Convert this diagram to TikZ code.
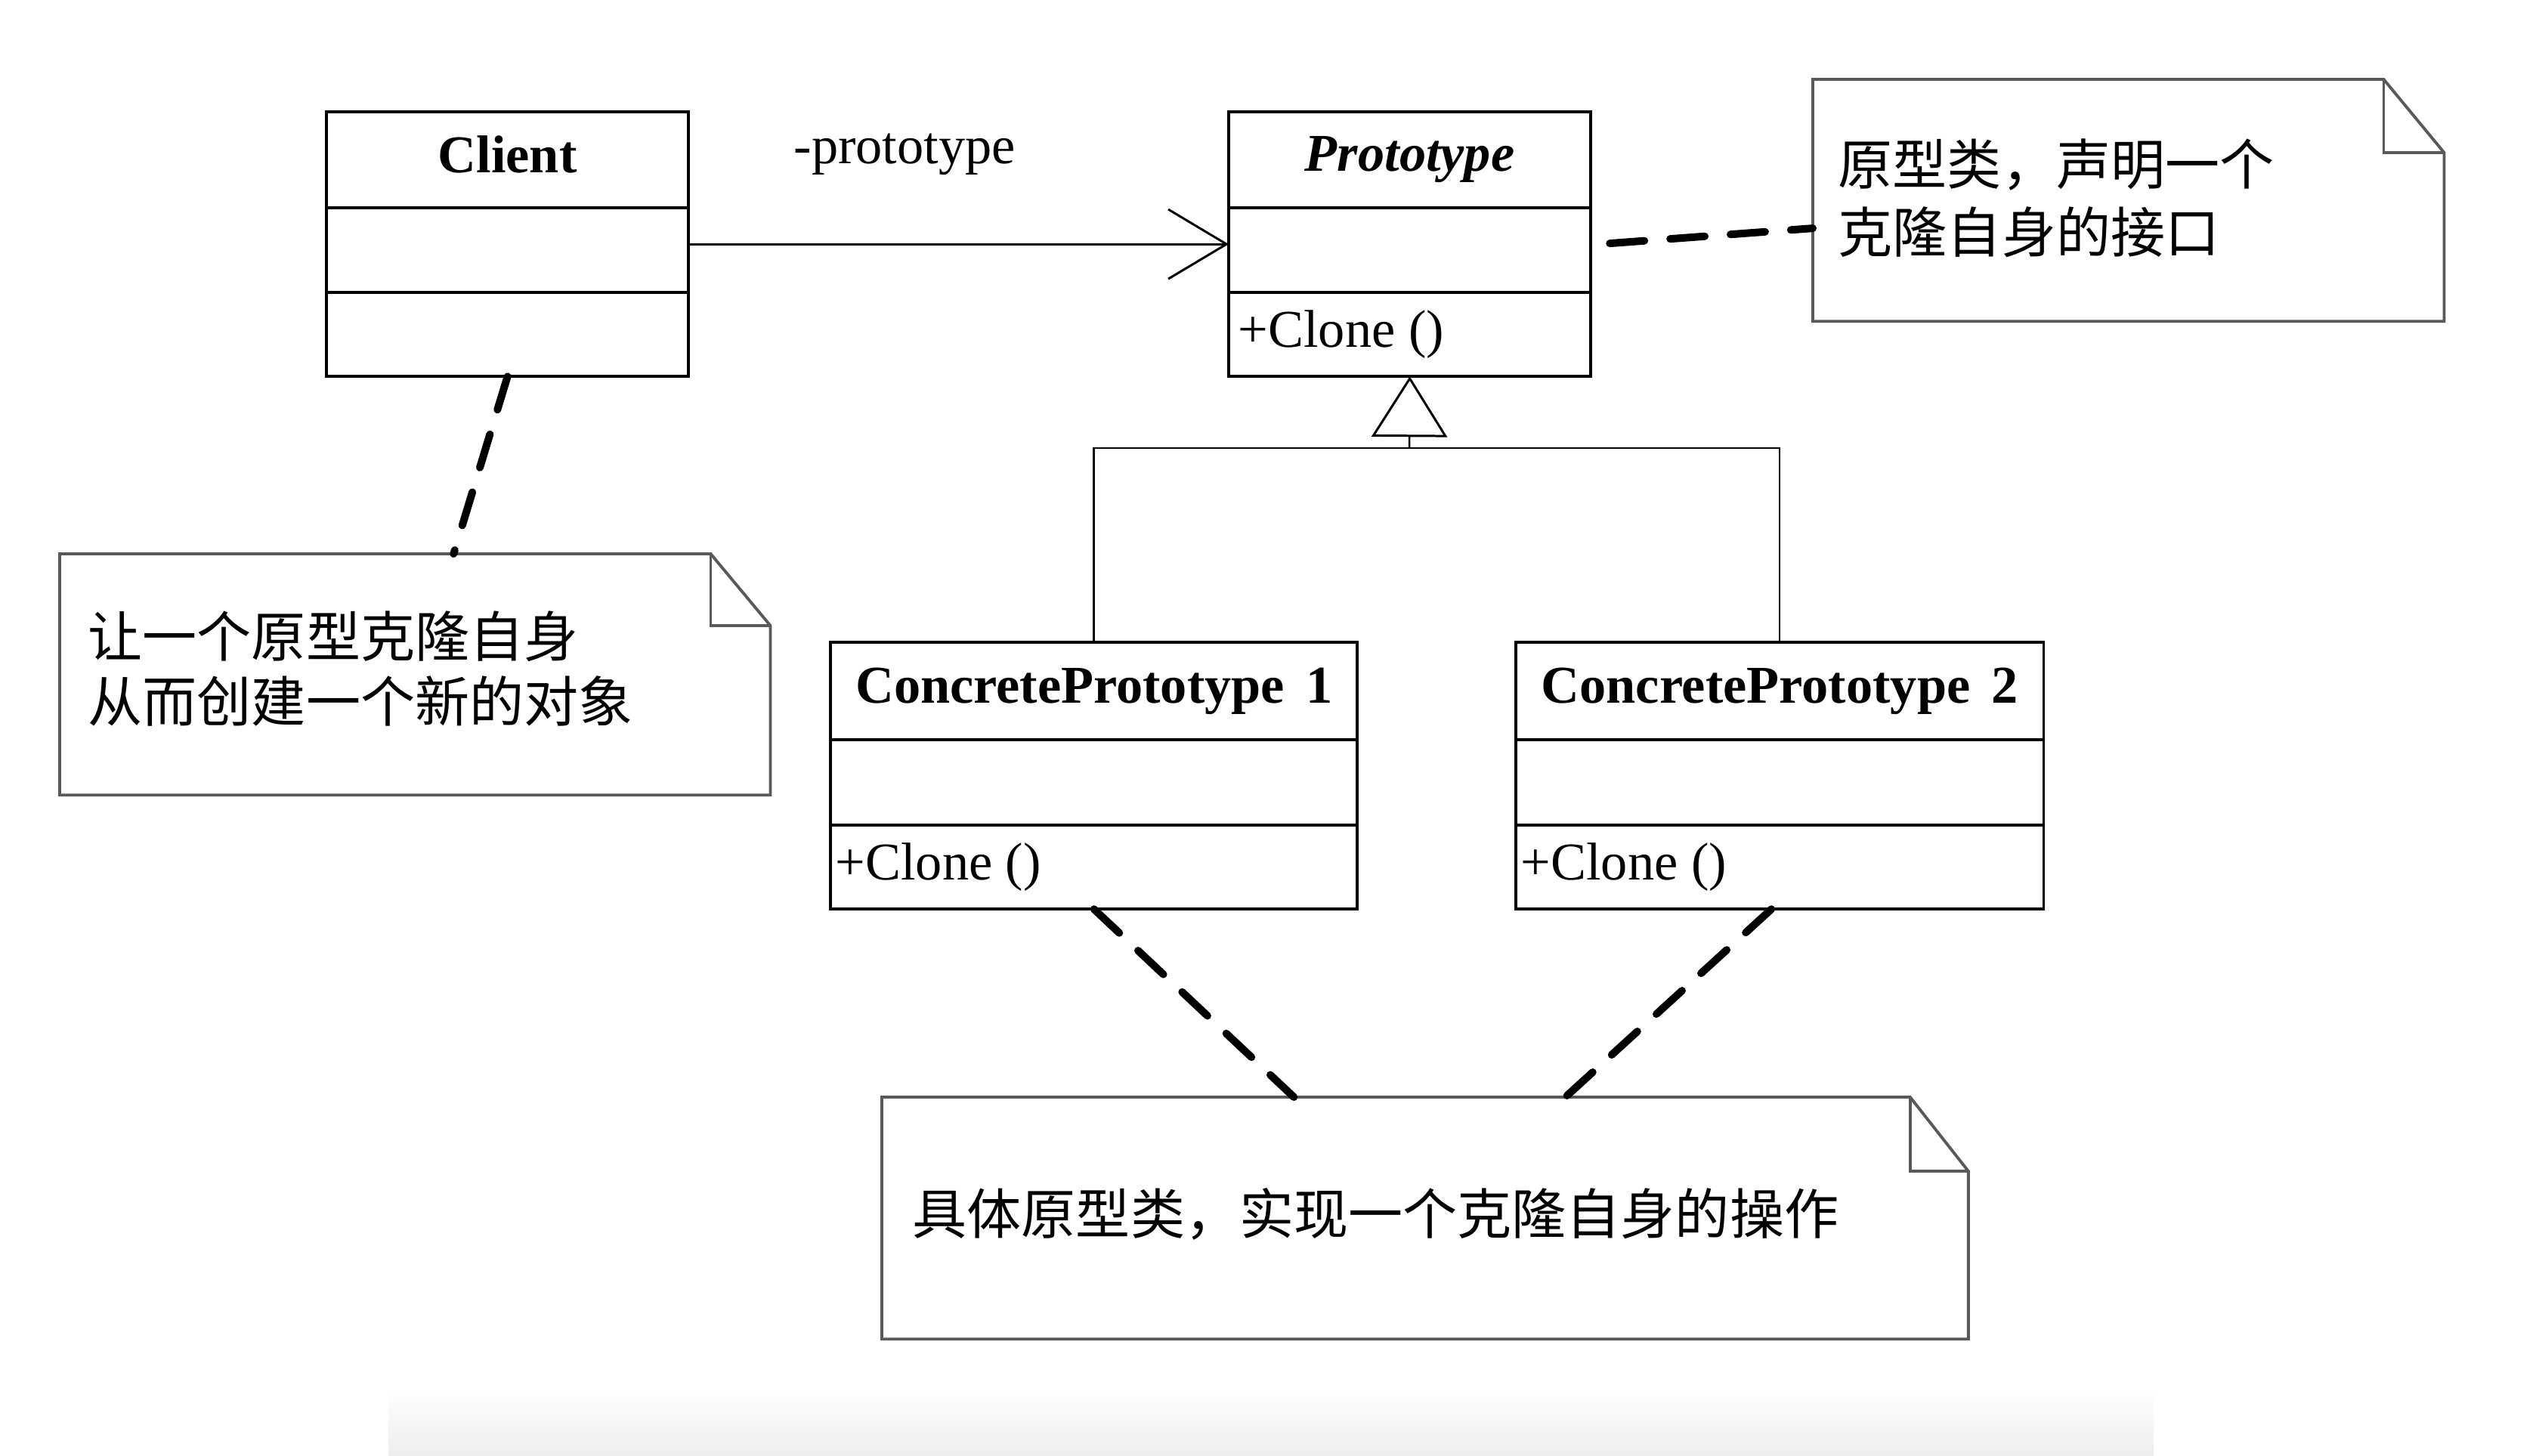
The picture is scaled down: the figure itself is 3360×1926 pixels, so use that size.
\documentclass[tikz,border=0pt]{standalone}
\usepackage{fontspec}
\setmainfont{Liberation Serif}
\newfontfamily\cjk{Noto Sans CJK SC}
\usetikzlibrary{arrows.meta,calc}
\begin{document}
\begin{tikzpicture}[x=0.01cm,y=-0.01cm,
  cls/.style={draw, line width=1.1pt, inner sep=0pt, outer sep=0pt, anchor=north west,
              font=\fontsize{20}{24}\selectfont},
  lat/.style={inner sep=0pt, font=\fontsize{20}{24}\selectfont},
  notebg/.style={inner sep=0pt, outer sep=0pt, anchor=north west},
  noteline/.style={draw=black!65, line width=1.1pt, line join=miter},
  cjkt/.style={inner sep=0pt, align=left, anchor=west},
  assoc/.style={line width=0.85pt, -{Straight Barb[length=0.77cm, width=0.92cm, line width=0.85pt]}},
  inherit/.style={line width=0.7pt},
  gen/.style={line width=0.7pt, -{Triangle[open, length=0.8cm, width=1.0cm, line width=0.85pt]}},
  dep/.style={line width=0.1cm, dash pattern=on 0.46cm off 0.34cm, line cap=round}
]
\fill[white] (0,0) rectangle (3360,1926);
\useasboundingbox (0,0) rectangle (3360,1926);
\shade[top color=white, bottom color=black!7] (514,1838) rectangle (2850,1926);

% ---- Client ----
\node[cls, minimum width=4.79cm, minimum height=1.27cm] (client-h) at (432,148) {\bfseries Client\vphantom{p}};
\node[cls, minimum width=4.79cm, minimum height=1.12cm] (client-a) at (client-h.south west) {};
\node[cls, minimum width=4.79cm, minimum height=1.11cm] (client-o) at (client-a.south west) {};

% ---- Prototype ----
\node[cls, minimum width=4.79cm, minimum height=1.27cm] (proto-h) at (1626,148) {\bfseries\itshape Prototype};
\node[cls, minimum width=4.79cm, minimum height=1.12cm] (proto-a) at (proto-h.south west) {};
\node[cls, minimum width=4.79cm, minimum height=1.11cm] (proto-o) at (proto-a.south west) {};
\node[lat, anchor=west] (proto-m) at ([xshift=0.12cm]proto-o.west) {+Clone ()};

% ---- ConcretePrototype 1 ----
\node[cls, minimum width=6.97cm, minimum height=1.29cm] (cp1-h) at (1099,850) {\bfseries ConcretePrototype\hspace{0.4em}1};
\node[cls, minimum width=6.97cm, minimum height=1.13cm] (cp1-a) at (cp1-h.south west) {};
\node[cls, minimum width=6.97cm, minimum height=1.11cm] (cp1-o) at (cp1-a.south west) {};
\node[lat, anchor=west] (cp1-m) at ([xshift=0.06cm]cp1-o.west) {+Clone ()};

% ---- ConcretePrototype 2 ----
\node[cls, minimum width=6.98cm, minimum height=1.29cm] (cp2-h) at (2006,850) {\bfseries ConcretePrototype\hspace{0.4em}2};
\node[cls, minimum width=6.98cm, minimum height=1.13cm] (cp2-a) at (cp2-h.south west) {};
\node[cls, minimum width=6.98cm, minimum height=1.11cm] (cp2-o) at (cp2-a.south west) {};
\node[lat, anchor=west] (cp2-m) at ([xshift=0.06cm]cp2-o.west) {+Clone ()};

% ---- association ----
\draw[assoc] ([yshift=0.08cm]client-a.east) -- ([yshift=0.08cm]proto-a.west)
  node[lat, pos=0.40, above=0.90cm] (role) {-prototype};

% ---- generalization ----
\coordinate (bar) at (1865,593);
\draw[inherit] (cp1-h.north) |- (bar) -| (cp2-h.north);
\draw[gen] (bar) -- (proto-o.south);

% ---- notes ----
\node[notebg, minimum width=8.35cm, minimum height=3.20cm] (note1) at (2399,105) {};
\draw[noteline] (note1.north west) -- ([xshift=-0.80cm]note1.north east) -- ([yshift=-0.97cm]note1.north east)
  -- (note1.south east) -- (note1.south west) -- cycle;
\draw[noteline] ([xshift=-0.80cm]note1.north east) |- ([yshift=-0.97cm]note1.north east);
\node[cjkt, font=\cjk\fontsize{20.5}{25.6}\selectfont] (note1-t) at (2432,262) {原型类，声明一个\\克隆自身的接口};

\node[notebg, minimum width=9.40cm, minimum height=3.19cm] (note2) at (79,733) {};
\draw[noteline] (note2.north west) -- ([xshift=-0.79cm]note2.north east) -- ([yshift=-0.95cm]note2.north east)
  -- (note2.south east) -- (note2.south west) -- cycle;
\draw[noteline] ([xshift=-0.79cm]note2.north east) |- ([yshift=-0.95cm]note2.north east);
\node[cjkt, font=\cjk\fontsize{20.5}{24.5}\selectfont] (note2-t) at (116,885) {让一个原型克隆自身\\从而创建一个新的对象};

\node[notebg, minimum width=14.37cm, minimum height=3.20cm] (note3) at (1167,1452) {};
\draw[noteline] (note3.north west) -- ([xshift=-0.77cm]note3.north east) -- ([yshift=-0.98cm]note3.north east)
  -- (note3.south east) -- (note3.south west) -- cycle;
\draw[noteline] ([xshift=-0.77cm]note3.north east) |- ([yshift=-0.98cm]note3.north east);
\node[cjkt, font=\cjk\fontsize{20.5}{25}\selectfont] (note3-t) at (1207,1607) {具体原型类，实现一个克隆自身的操作};

% ---- note anchors ----
\draw[dep] (client-o.south) -- ([xshift=5.21cm]note2.north west);
\draw[dep] ([xshift=0.25cm,yshift=0.09cm]proto-a.east) -- ([yshift=-0.37cm]note1.west);
\draw[dep] (cp1-o.south) -- ([xshift=5.45cm]note3.north west);
\draw[dep] ([xshift=-0.11cm]cp2-o.south) -- ([xshift=9.04cm]note3.north west);
\end{tikzpicture}
\end{document}
